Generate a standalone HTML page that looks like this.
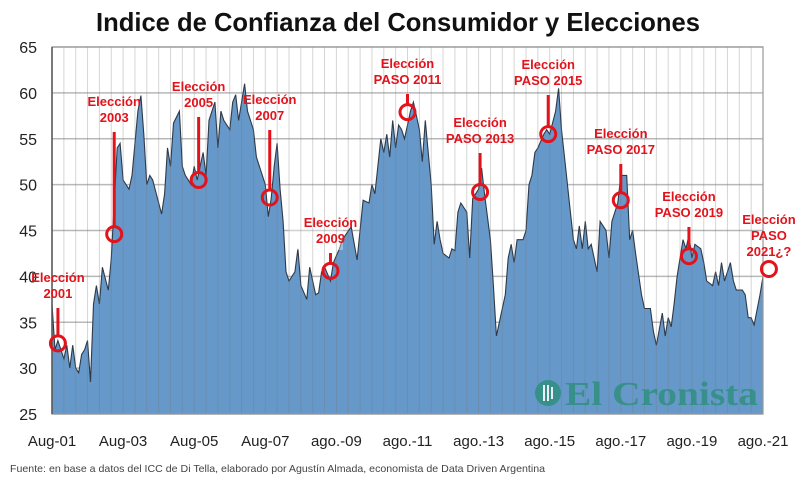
<!DOCTYPE html>
<html><head><meta charset="utf-8"><style>
html,body{margin:0;padding:0;background:#fff;}
svg{display:block;}
</style></head><body>
<svg id="chart" width="800" height="482" viewBox="0 0 800 482" xmlns="http://www.w3.org/2000/svg">
<rect width="800" height="482" fill="#fff"/>
<text x="398" y="31" text-anchor="middle" font-family="Liberation Sans, sans-serif" font-weight="bold" font-size="26" textLength="604" lengthAdjust="spacingAndGlyphs" fill="#111">Indice de Confianza del Consumidor y Elecciones</text>
<g id="gridH"></g>
<g id="area"></g>
<g id="gridV"></g>
<g id="yticks"></g>
<g id="xticks"></g>
<g id="ann"></g>
<g opacity="0.85">
<circle cx="548" cy="393" r="13" fill="#2f8f7f"/>
<rect x="543" y="385" width="2" height="16" fill="#fff"/><rect x="547" y="385" width="2" height="16" fill="#fff"/><rect x="551" y="387" width="2" height="12" fill="#fff"/>
<text x="565" y="405" font-family="Liberation Serif, serif" font-weight="bold" font-size="34" textLength="193" lengthAdjust="spacingAndGlyphs" fill="#2f8f7f">El Cronista</text>
</g>
<text x="10" y="472" font-family="Liberation Sans, sans-serif" font-size="10.5" textLength="535" lengthAdjust="spacingAndGlyphs" fill="#444">Fuente: en base a datos del ICC de Di Tella, elaborado por Agustín Almada, economista de Data Driven Argentina</text>
</svg>
<script>
const months = [0,1,2,4,5,6,7,8,9,10,11,12,13,14,15,16,17,19,20,21,22,23,24,26,27,29,30,31,32,33,34,36,37,38,39,40,41,43,44,45,47,48,49,51,52,53,55,56,57,58,60,61,62,63,65,66,68,69,70,72,73,74,75,76,77,78,79,80,82,83,84,86,87,89,90,91,92,94,95,97,98,101,103,105,107,108,109,111,112,113,114,115,116,117,118,119,121,122,123,124,125,126,128,129,130,131,132,134,135,136,137,138,140,141,142,144,145,146,148,149,150,152,153,154,155,156,157,159,160,161,162,163,164,166,167,168,170,171,172,173,175,176,177,178,179,180,181,182,184,185,187,188,189,191,192,194,195,196,197,199,200,202,203,204,206,207,208,209,210,211,213,214,215,216,217,219,220,221,223,224,225,226,227,229,230,231,233,234,235,236,237,239,240];
const values = [37,32,33,31,32.5,30,32.5,30,29.5,31.5,32,33,28.5,37,39,37,41,38.5,42,48,54,54.5,50.5,49.5,51,58,59.7,55.5,50,51,50.5,48,46.8,49,54,52,56.7,58,52,51,50,52,50.5,53.5,51,57,59,54,58,57,56,59,59.8,57,61,58,56,53,52,50,46.5,48.5,52,54.5,49.5,46,40.5,39.5,40.5,43,39,37.5,41,38,38.2,40.5,41,39.5,41.5,43,44,45.4,41.8,48.3,48,50,49,55,53.5,55.5,53,57,54,56.5,56,55,58,59,57.5,56,52.5,57,50,43.5,46,44,42.5,42,43,42.8,47,48,47,42,48.5,49.5,51.8,49,44,39,33.5,36.5,38,42,43.5,41.5,44,44,45,50,51,53.5,54,55.5,56,55.5,58,60.5,56,53,47,44,43,45.5,43,46,43,43.5,40.5,46,45,42,46,48,51,51,44,45,42.5,38,36.5,36.5,34,32.5,36,33.5,35.5,34.5,37,40,44,43,44.5,42,43.5,43,41.5,39.5,39,40.5,39,41.5,39.5,41.5,39.5,38.5,38.5,38,35.5,35.5,34.7,38,40];
const yTicks = [25,30,35,40,45,50,55,60,65];
const xLabels = ["Aug-01","Aug-03","Aug-05","Aug-07","ago.-09","ago.-11","ago.-13","ago.-15","ago.-17","ago.-19","ago.-21"];
const elections = ["Elección|2001","Elección|2003","Elección|2005","Elección|2007","Elección|2009","Elección|PASO 2011","Elección|PASO 2013","Elección|PASO 2015","Elección|PASO 2017","Elección|PASO 2019","Elección|PASO|2021¿?"];
const electionMonths = [2,21,49.5,73.5,94,120,144.5,167.5,192,215,242];
const electionValues = [32.7,44.6,50.5,48.6,40.6,57.9,49.2,55.5,48.3,42.2,40.8];

const NS="http://www.w3.org/2000/svg";
const X0=52,X1=763,Y0=414,Y1=47;
const x=m=>X0+m*(X1-X0)/240;
const y=v=>Y0-(v-25)*(Y0-Y1)/40;
function mk(t,a,p){const e=document.createElementNS(NS,t);for(const k in a)e.setAttribute(k,a[k]);p.appendChild(e);return e;}

const gH=document.getElementById('gridH');
yTicks.forEach(v=>{const l=mk('line',{x1:X0,x2:X1,y1:y(v),y2:y(v),stroke:'#b8b8b8','stroke-width':1.5},gH);

});

const ar=document.getElementById('area');
let d='M'+x(months[0])+','+Y0;
months.forEach((m,i)=>{d+=' L'+x(m).toFixed(1)+','+y(values[i]).toFixed(1);});
d+=' L'+x(months[months.length-1])+','+Y0+' Z';
const p=mk('path',{d:d,fill:'#6698c9',stroke:'none'},ar);


let ld='';months.forEach((m,i)=>{ld+=(i?' L':'M')+x(m).toFixed(1)+','+y(values[i]).toFixed(1);});
const ln=mk('path',{d:ld,fill:'none',stroke:'#2e3a48','stroke-width':1.1},ar);


const hb=mk('rect',{x:288,y:208,width:55,height:42,fill:'#fff',opacity:0.35},ar);



const gV=document.getElementById('gridV');
for(let m=0;m<=240;m+=4){const l=mk('line',{x1:x(m),x2:x(m),y1:Y1,y2:Y0,stroke:'#777','stroke-width':1,opacity:0.3},gV);

}
const fr=mk('rect',{x:X0,y:Y1,width:X1-X0,height:Y0-Y1,fill:'none',stroke:'#999','stroke-width':1.2},gV);


const ax=mk('line',{x1:X0,x2:X0,y1:Y1,y2:Y0,stroke:'#555','stroke-width':1.5},gV);



const yt=document.getElementById('yticks');
yTicks.forEach(v=>{const t=mk('text',{x:37,y:y(v)+6,'text-anchor':'end','font-family':'Liberation Sans, sans-serif','font-size':16,fill:'#222'},yt);t.textContent=v;

});

const xt=document.getElementById('xticks');
xLabels.forEach((s,i)=>{const t=mk('text',{x:x(i*24),y:446,'text-anchor':'middle','font-family':'Liberation Sans, sans-serif','font-size':15,fill:'#222'},xt);t.textContent=s;

});

const an=document.getElementById('ann');
const labelTop=[277,101,86,99,222,63,122,64,133,196,219];
elections.forEach((s,i)=>{
  const cx=x(electionMonths[i]),cy=y(electionValues[i]);
  const g=mk('g',{},an);
  
  
  const lines=s.split('|');
  lines.forEach((tx,j)=>{const t=mk('text',{x:cx,y:labelTop[i]+5+j*16,'text-anchor':'middle','font-family':'Liberation Sans, sans-serif','font-weight':'bold','font-size':13,fill:'#e3121b'},g);t.textContent=tx;});
  const lastY=labelTop[i]+5+(lines.length-1)*16+6;
  if(i<10){mk('line',{x1:cx,x2:cx,y1:lastY+4,y2:cy-7,stroke:'#e3121b','stroke-width':3},g);}
  mk('circle',{cx:cx,cy:cy,r:7.5,fill:'none',stroke:'#e3121b','stroke-width':3},g);
});
</script>
</body></html>
